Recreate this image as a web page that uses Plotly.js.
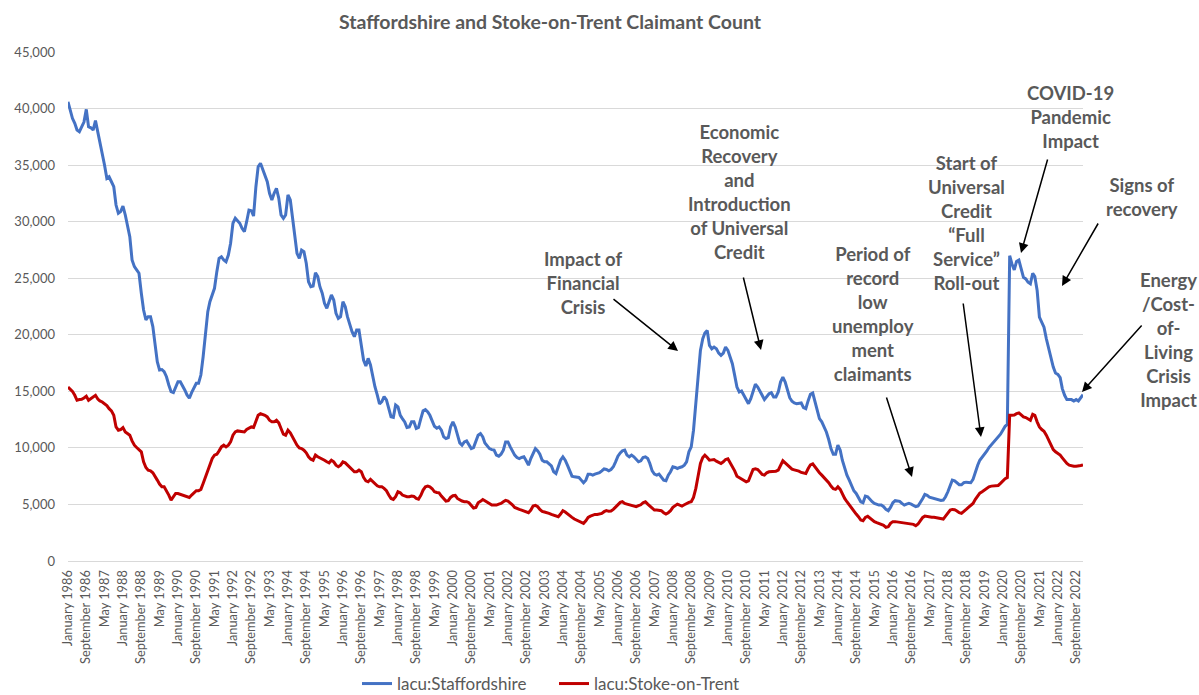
<!DOCTYPE html>
<html>
<head>
<meta charset="utf-8">
<script src="https://cdn.plot.ly/plotly-3.0.1.min.js"></script>
<style>html,body{margin:0;padding:0;background:#fff;}#chart{width:1199px;height:695px;}</style>
</head>
<body>
<div id="chart"></div>
<script>
// Monthly claimant counts, January 1986 onwards
const startYear = 1986;
const seriesNames = ["lacu:Staffordshire", "lacu:Stoke-on-Trent"];
const staffordshire = [
40600,39870,39140,38700,38100,37950,38400,38800,39930,38400,38300,38100,
38930,37960,37070,36040,35010,33830,33970,33530,33090,31470,30740,30890,
31380,30590,29560,28670,26610,26020,25730,25440,23670,22190,21310,21600,
21600,20720,19240,17620,16890,16930,16740,16290,15560,14970,14890,15410,
15850,15850,15560,15120,14680,14390,14890,15360,15710,15710,16440,18060,
20130,22040,22930,23520,24110,25580,26760,26900,26610,26460,27050,28090,
29860,30300,30090,29860,29410,29110,30000,31030,30970,30500,33090,34860,
35160,34570,33970,33530,32510,31920,32510,32950,32060,30590,30300,30590,
32360,31920,30440,28970,27200,26760,27490,27350,26320,24690,24250,24300,
25490,25140,24250,23670,22780,22340,22930,23520,23070,21900,21450,21600,
22930,22480,21600,20870,20280,19830,20420,20420,19240,17770,17240,17920,
17330,16150,15410,14680,13880,14090,14530,14240,13350,12760,12700,13790,
13620,12880,12590,12300,11800,11850,12300,12300,11710,11800,12590,13270,
13380,13180,12880,12300,11910,11740,11850,11560,10970,10830,10910,11850,
12300,11850,11270,10440,10240,10530,10620,10240,9940,10030,10530,11120,
11270,10970,10440,10150,9940,9850,9800,9360,9270,9440,9800,10530,
10530,10090,9740,9360,9150,9060,9150,9210,8860,8470,9060,9560,
9940,9740,9440,8910,8770,8770,8620,8410,7890,7740,8330,8910,
9210,8910,8470,7890,7500,7440,7440,7390,7150,6920,7150,7680,
7680,7590,7680,7740,7800,7970,8150,8090,7970,8090,8330,8770,
9270,9560,9740,9800,9360,9210,9360,9210,8970,8770,8860,9150,
9210,9060,8620,7970,7680,7590,7680,7440,7150,7090,7590,7890,
8330,8270,8180,8270,8330,8470,8770,9650,10090,11560,13620,16260,
18620,19650,20150,20380,19060,18760,18910,18760,18380,18180,18380,18910,
18620,18030,17440,16410,15380,14940,15030,14650,14210,13910,14350,14940,
15620,15380,15090,14650,14270,14500,14790,14880,14500,14500,14940,15820,
16260,15820,15090,14440,14120,13970,13910,13950,13970,13560,13470,14150,
14740,14850,14060,13180,12590,12300,11910,11410,10740,9940,9440,9440,
10240,9800,8910,8180,7590,7150,6710,6210,5970,5620,5240,5150,
5740,5680,5450,5240,5090,5000,4940,4940,4800,4560,4450,4740,
5150,5330,5330,5270,5090,4940,5030,5090,5030,4940,4800,4860,
5150,5530,5880,5800,5650,5590,5530,5470,5420,5360,5390,5680,
6120,6710,7150,7090,6920,6740,6740,6920,6970,6920,6920,7210,
7890,8470,8910,9150,9440,9710,10030,10270,10440,10680,10910,11210,
11560,11910,12090,26990,26260,25730,26490,26610,25820,25080,24940,24640,
24500,25440,25140,23910,21560,21030,20670,19650,18760,17970,17150,16620,
16500,16210,15240,14650,14270,14270,14270,14150,14270,14150,14450,14700
];
const stokeOnTrent = [
15380,15180,15000,14650,14210,14270,14290,14410,14560,14210,14350,14500,
14650,14320,14150,14060,13910,13740,13470,13270,12880,11850,11560,11620,
11800,11410,11270,11120,10620,10240,10030,9800,9650,8770,8270,8030,
7970,7800,7440,7150,6800,6560,6560,6210,5830,5390,5680,5970,
5970,5910,5830,5740,5680,5620,5830,6030,6210,6210,6330,6860,
7440,7970,8470,9060,9360,9440,9740,10090,10240,10090,10240,10530,
11120,11410,11500,11470,11380,11410,11620,11770,11850,11800,12300,12880,
13030,12970,12880,12740,12440,12300,12300,12440,12210,11710,11210,11120,
11560,11330,10970,10620,10240,10000,9940,9800,9560,9210,9000,8910,
9360,9210,9120,9060,8910,8770,8680,8910,8770,8470,8330,8470,
8770,8680,8470,8270,8090,7890,7890,8030,7890,7390,7090,7000,
7210,7000,6800,6650,6560,6560,6420,6210,5830,5530,5450,5680,
6120,6030,5830,5740,5680,5680,5740,5710,5530,5470,5800,6270,
6560,6620,6560,6390,6120,6060,6030,5740,5530,5300,5330,5620,
5770,5800,5530,5390,5300,5240,5240,5150,4860,4680,4740,5150,
5270,5440,5330,5210,5030,4940,4940,4940,5030,5090,5240,5360,
5300,5150,4970,4740,4620,4560,4500,4420,4360,4270,4500,4860,
4920,4800,4560,4390,4330,4300,4210,4120,4060,3970,3920,4150,
4450,4330,4150,3970,3860,3710,3620,3560,3480,3330,3560,3860,
3970,4060,4120,4120,4150,4210,4360,4450,4390,4420,4560,4740,
4940,5180,5240,5090,5030,4970,4940,4860,4800,4890,4970,5150,
5240,5030,4860,4650,4500,4500,4500,4450,4270,4150,4270,4450,
4740,4920,5030,4940,4860,4970,5090,5180,5240,5620,6420,7500,
8620,9150,9360,9150,8910,8940,8970,8830,8740,8620,8770,8970,
9030,8680,8380,7970,7500,7360,7300,7150,7000,7090,7590,8090,
8150,8090,7890,7650,7590,7800,7890,7890,7890,7940,8030,8470,
8860,8680,8470,8270,8120,8060,8030,7950,7830,7800,7740,8150,
8500,8590,8330,8030,7800,7590,7380,7150,6920,6620,6390,6330,
6560,6330,5920,5530,5240,4940,4650,4360,4150,3920,3620,3560,
3860,3950,3800,3620,3480,3390,3330,3240,3150,2980,3030,3330,
3480,3480,3450,3420,3390,3330,3330,3300,3270,3240,3120,3270,
3560,3860,3970,3920,3860,3860,3860,3830,3770,3710,3710,3970,
4270,4500,4560,4530,4420,4270,4210,4360,4560,4740,4920,5090,
5450,5800,6000,6120,6270,6440,6560,6620,6620,6620,6680,6860,
7090,7270,7380,12880,12880,12910,13030,13090,12910,12740,12680,12560,
12440,12970,12880,12300,11850,11620,11470,11120,10680,10150,9850,9650,
9500,9360,9120,8860,8620,8470,8410,8380,8380,8380,8440,8500
];
const seriesColors = ["#4472C4", "#C00000"];
const noteTexts = [
  ["Impact of", "Financial", "Crisis"],
  ["Economic", "Recovery", "and", "Introduction", "of Universal", "Credit"],
  ["Period of", "record", "low", "unemploy", "ment", "claimants"],
  ["Start of", "Universal", "Credit", "\u201cFull", "Service\u201d", "Roll-out"],
  ["COVID-19", "Pandemic", "Impact"],
  ["Signs of", "recovery"],
  ["Energy", "/Cost-", "of-", "Living", "Crisis", "Impact"]
];

// month labels (dates) generated from start year
const months = staffordshire.map((_, i) => {
  const y = startYear + Math.floor(i / 12);
  const m = (i % 12) + 1;
  return y + "-" + (m < 10 ? "0" + m : m) + "-01";
});

// layout geometry (pixels)
const W = 1199, H = 695;
const PL = 68, PR = 1083, PT = 52, PB = 561;
const px = X => (X - PL) / (PR - PL);
const py = Y => (PB - Y) / (PB - PT);

const notePos = [
  [583, 283], [739, 192], [873, 314], [966, 223], [1070, 117], [1142, 197], [1168, 340]
];
const arrows = [
  [[612, 298], [678, 351]],
  [[743, 276], [761, 350]],
  [[886, 396], [912, 477]],
  [[963, 302], [981, 437]],
  [[1048, 158], [1021, 253]],
  [[1099, 222], [1062, 286]],
  [[1143, 324], [1082, 392]]
];

const FONT = "Lato, 'Open Sans', sans-serif";
const GREY = "#595959";

const annotations = [];
noteTexts.forEach((lines, k) => {
  annotations.push({
    xref: "paper", yref: "paper",
    x: px(notePos[k][0]), y: py(notePos[k][1]),
    xanchor: "center", yanchor: "middle", align: "center",
    text: lines.map(l => "<b>" + l + "</b>").join("<br>"),
    showarrow: false,
    font: {family: FONT, size: 18.5, color: GREY}
  });
});
arrows.forEach(a => {
  const tail = a[0], head = a[1];
  annotations.push({
    xref: "paper", yref: "paper",
    x: px(head[0]), y: py(head[1]),
    ax: tail[0] - head[0], ay: tail[1] - head[1],
    axref: "pixel", ayref: "pixel",
    text: "", showarrow: true,
    arrowhead: 2, arrowsize: 1.3, arrowwidth: 1.5, arrowcolor: "#000000",
    standoff: 0, startstandoff: 0
  });
});

const traces = [staffordshire, stokeOnTrent].map((vals, k) => ({
  type: "scatter", mode: "lines",
  x: months, y: vals, name: seriesNames[k],
  line: {color: seriesColors[k], width: 3}
}));

const layout = {
  width: W, height: H,
  margin: {l: PL, r: W - PR, t: PT, b: H - PB},
  paper_bgcolor: "#ffffff", plot_bgcolor: "#ffffff",
  separators: ".,",
  title: {
    text: "<b>Staffordshire and Stoke-on-Trent Claimant Count</b>",
    font: {family: FONT, size: 19.5, color: GREY},
    xref: "container", yref: "container",
    x: 550 / W, xanchor: "center", y: 1 - 22 / H, yanchor: "middle"
  },
  xaxis: {
    type: "date", automargin: false,
    range: [months[0], months[months.length - 1]],
    tickmode: "linear", tick0: months[0], dtick: "M8",
    tickformat: "%B %Y", tickangle: -90,
    tickfont: {family: FONT, size: 12.8, color: GREY},
    ticklabelstandoff: 3,
    showgrid: false, showline: true, linecolor: "#d9d9d9", linewidth: 1,
    ticks: "", zeroline: false
  },
  yaxis: {
    automargin: false,
    range: [0, 45000], tickmode: "linear", tick0: 0, dtick: 5000,
    tickformat: ",d",
    tickfont: {family: FONT, size: 13, color: GREY},
    gridcolor: "#d9d9d9", gridwidth: 1, zeroline: false, showline: false,
    ticks: "", ticklabelstandoff: 12
  },
  showlegend: true,
  legend: {
    orientation: "h", xref: "container", yref: "container",
    x: 357 / W, xanchor: "left", y: 1 - 684 / H, yanchor: "middle",
    entrywidth: 152, entrywidthmode: "pixels",
    font: {family: FONT, size: 17, color: GREY},
    bgcolor: "rgba(0,0,0,0)"
  },
  annotations: annotations
};

Plotly.newPlot("chart", traces, layout, {displayModeBar: false, staticPlot: true});
</script>
</body>
</html>
